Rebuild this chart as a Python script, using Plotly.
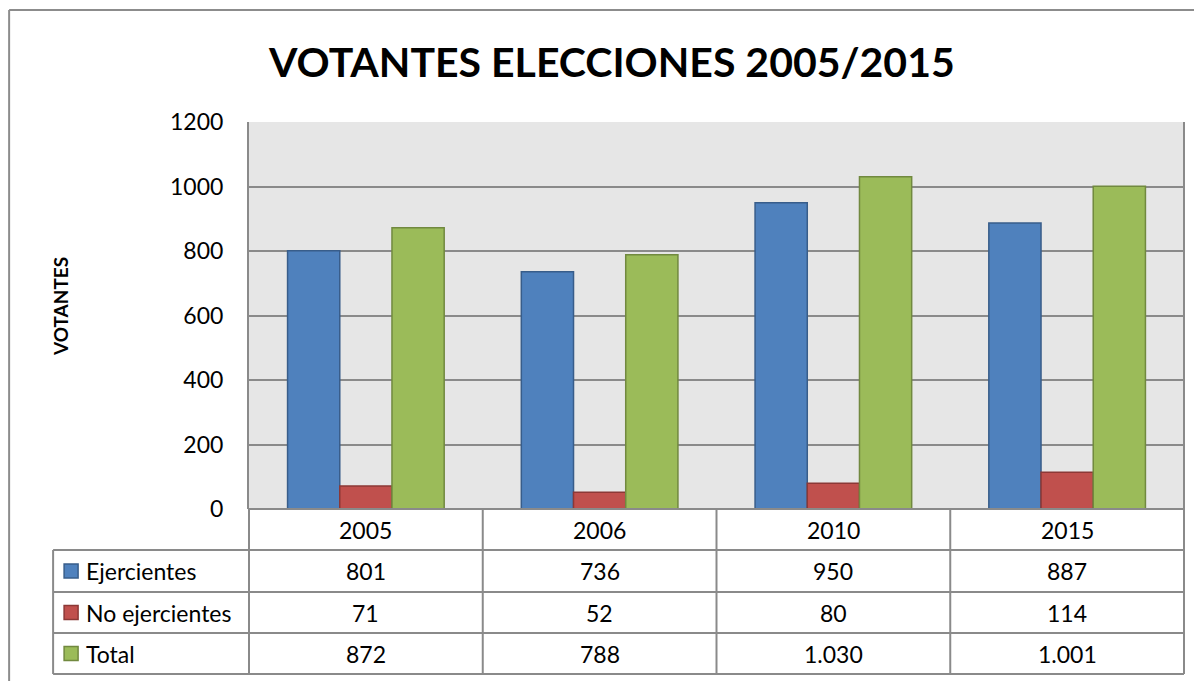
import plotly.graph_objects as go

years = ["2005", "2006", "2010", "2015"]
series_names = ["Ejercientes", "No ejercientes", "Total"]
ejercientes = [801, 736, 950, 887]
no_ejercientes = [71, 52, 80, 114]
total = [872, 788, 1030, 1001]
y_ticks = [0, 200, 400, 600, 800, 1000, 1200]
title_text = "VOTANTES ELECCIONES 2005/2015"
y_title = "VOTANTES"

colors = ["#4f81bd", "#c0504d", "#9bbb59"]
edges = ["#385d8a", "#8c3836", "#71893f"]
FONT = "Lato"

OFF = 8  # page body margin
W, H = 1202 - OFF, 681 - OFF
PL, PR, PT, PB = 249 - OFF, 1184.5 - OFF, 122 - OFF, 509 - OFF


def px(x):
    return (x - OFF - PL) / (PR - PL)


def py(y):
    return (PB - (y - OFF)) / (PB - PT)


def fmt(v):
    return f"{v:,}".replace(",", ".")


fig = go.Figure()
for name, vals, c, e in zip(series_names, [ejercientes, no_ejercientes, total], colors, edges):
    fig.add_trace(go.Bar(x=years, y=vals, name=name, marker=dict(color=c, line=dict(color=e, width=1.5))))

shapes = []
annotations = []
grid = "#8a8a8a"

# outer chart border
shapes.append(dict(type="line", xref="paper", yref="paper", x0=px(9), x1=px(9), y0=py(10), y1=py(700),
                   line=dict(color="#8c8c8c", width=2)))
shapes.append(dict(type="line", xref="paper", yref="paper", x0=px(9), x1=px(1220), y0=py(10), y1=py(10),
                   line=dict(color="#8c8c8c", width=2)))

# table (pixel coordinates of the reference)
row_lines = [509, 550, 592, 633, 674]
L, R = 249, 1184.5
col_w = (R - L) / len(years)
col_x = [L + i * col_w for i in range(len(years) + 1)]
tl = 53
shapes.append(dict(type="line", xref="paper", yref="paper", x0=px(L), x1=px(R), y0=py(509), y1=py(509),
                   line=dict(color=grid, width=2)))
for yy in row_lines[1:]:
    shapes.append(dict(type="line", xref="paper", yref="paper", x0=px(tl), x1=px(R), y0=py(yy), y1=py(yy),
                       line=dict(color=grid, width=2)))
shapes.append(dict(type="line", xref="paper", yref="paper", x0=px(tl), x1=px(tl), y0=py(550), y1=py(674),
                   line=dict(color=grid, width=2)))
for xx in col_x:
    shapes.append(dict(type="line", xref="paper", yref="paper", x0=px(xx), x1=px(xx), y0=py(509), y1=py(674),
                       line=dict(color=grid, width=2)))

tf = dict(family=FONT, size=23, color="#000000")
for i, yr in enumerate(years):
    annotations.append(dict(x=i, xref="x", y=py((row_lines[0] + row_lines[1]) / 2), yref="paper",
                            text=yr, showarrow=False, font=tf, xanchor="center", yanchor="middle"))
for r, (name, vals, c, e) in enumerate(zip(series_names, [ejercientes, no_ejercientes, total], colors, edges)):
    ymid = (row_lines[r + 1] + row_lines[r + 2]) / 2
    shapes.append(dict(type="rect", xref="paper", yref="paper", x0=px(64), x1=px(78), y0=py(ymid - 7), y1=py(ymid + 7),
                       fillcolor=c, line=dict(color=e, width=1.5)))
    annotations.append(dict(x=px(84), xref="paper", y=py(ymid), yref="paper", text=name, showarrow=False,
                            font=tf, xanchor="left", yanchor="middle"))
    for i, yr in enumerate(years):
        annotations.append(dict(x=i, xref="x", y=py(ymid), yref="paper", text=fmt(vals[i]), showarrow=False,
                                font=tf, xanchor="center", yanchor="middle"))

annotations.append(dict(x=px(612), xref="paper", y=py(62), yref="paper", text="<b>" + title_text + "</b>",
                        showarrow=False, font=dict(family=FONT, size=41, color="#000000"),
                        xanchor="center", yanchor="middle"))
annotations.append(dict(x=px(60), xref="paper", y=py(307), yref="paper", text="<b>" + y_title + "</b>",
                        showarrow=False, font=dict(family=FONT, size=19, color="#000000"), textangle=-90,
                        xanchor="center", yanchor="middle"))

fig.update_layout(
    width=W, height=H,
    margin=dict(l=PL, r=W - PR, t=PT, b=H - PB, pad=0),
    paper_bgcolor="#ffffff",
    plot_bgcolor="#e6e6e6",
    barmode="group",
    bargap=0.33,
    bargroupgap=0,
    showlegend=False,
    shapes=shapes,
    annotations=annotations,
    xaxis=dict(type="category", categoryorder="array", categoryarray=years, range=[-0.5, len(years) - 0.5],
               autorange=False, showticklabels=False, showgrid=False, zeroline=False, showline=False, ticks=""),
    yaxis=dict(range=[0, 1200], autorange=False, tickvals=y_ticks, showgrid=True, gridcolor=grid, gridwidth=2,
               zeroline=False, showline=True, linecolor=grid, linewidth=2, mirror=False,
               ticks="", ticklabelstandoff=19,
               tickfont=dict(family=FONT, size=23, color="#000000")),
)
fig.add_shape(type="line", xref="paper", yref="paper", x0=1, x1=1, y0=0, y1=1, line=dict(color=grid, width=2))

fig.write_html("out.html")
